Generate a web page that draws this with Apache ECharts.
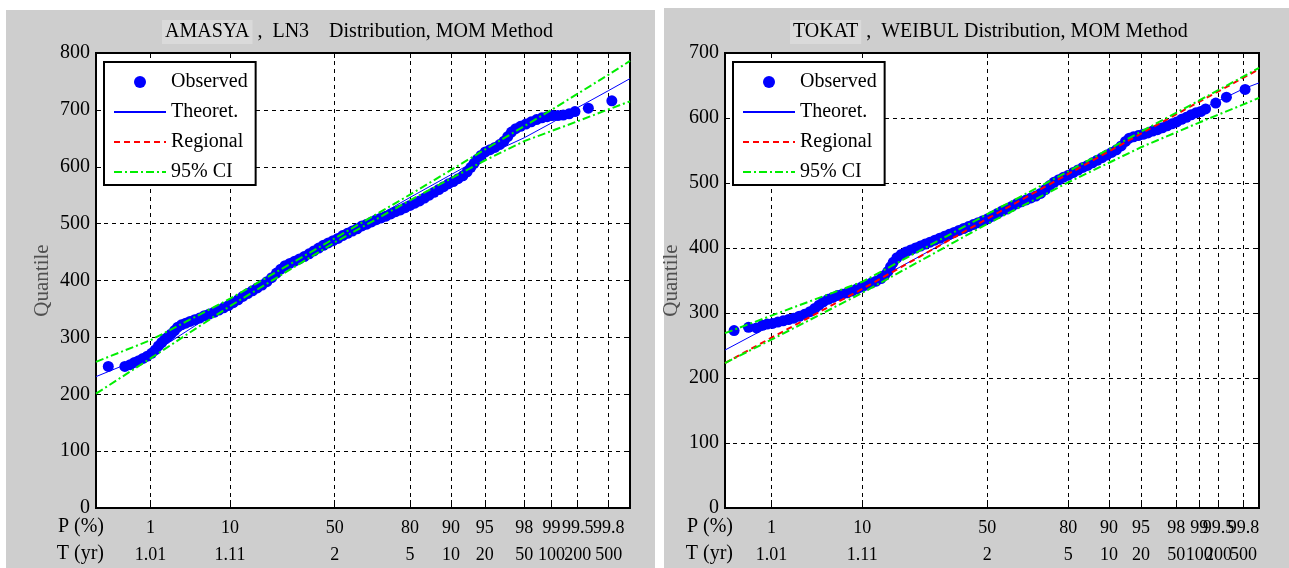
<!DOCTYPE html>
<html>
<head>
<meta charset="utf-8">
<script src="https://cdn.jsdelivr.net/npm/echarts@6/dist/echarts.min.js"></script>
<style>
  html, body { margin: 0; padding: 0; background: #fff; }
  .panel { position: absolute; background: #cecece; }
  #chart { position: absolute; left: 0; top: 0; width: 1289px; height: 568px; }
</style>
</head>
<body>
<div class="panel" style="left:6px;top:10px;width:649px;height:558px"></div>
<div class="panel" style="left:664px;top:8px;width:625px;height:560px"></div>
<div id="chart"></div>
<script>
// x values are positions along the probability axis, in % of the plot width
const pLabels = ['1', '10', '50', '80', '90', '95', '98', '99', '99.5', '99.8']
const tLabels = ['1.01', '1.11', '2', '5', '10', '20', '50', '100', '200', '500']
const tickPosLeft = [10.2, 25.1, 44.7, 58.8, 66.5, 72.8, 80.2, 85.3, 90.2, 96.0]
const tickPosRight = [8.7, 25.7, 49.1, 64.3, 71.9, 77.9, 84.5, 88.8, 92.4, 97.1]

// AMASYA, LN3
const observedLeft = [
  [2.3, 249], [5.4, 249], [6.4, 252], [7.2, 256], [8.0, 259], [8.8, 263], [9.6, 267], [10.4, 272],
  [11.1, 278], [11.7, 285], [12.3, 291], [12.9, 297], [13.5, 301], [14.1, 306], [14.7, 312], [15.3, 318],
  [16.0, 322], [16.8, 325], [17.6, 328], [18.5, 331], [19.4, 334], [20.3, 338], [21.2, 341], [22.1, 344],
  [23.0, 348], [23.9, 352], [24.8, 356], [25.7, 361], [26.6, 366], [27.5, 372], [28.4, 377], [29.3, 382],
  [30.2, 387], [31.1, 392], [32.0, 398], [32.9, 405], [33.8, 413], [34.6, 420], [35.4, 426], [36.3, 430],
  [37.2, 434], [38.1, 438], [39.0, 442], [39.9, 447], [40.8, 452], [41.7, 457], [42.6, 462], [43.5, 466],
  [44.4, 470], [45.3, 474], [46.2, 479], [47.1, 483], [48.0, 487], [48.9, 491], [49.8, 496], [50.7, 499],
  [51.6, 503], [52.5, 507], [53.4, 510], [54.3, 513], [55.2, 517], [56.1, 521], [57.0, 524], [57.9, 528],
  [58.8, 532], [59.7, 536], [60.6, 540], [61.5, 545], [62.4, 550], [63.3, 555], [64.2, 560], [65.1, 565],
  [66.0, 570], [66.9, 574], [67.8, 579], [68.7, 584], [69.5, 591], [70.2, 599], [70.8, 606], [71.4, 613],
  [72.1, 620], [72.9, 626], [73.8, 630], [74.7, 634], [75.6, 639], [76.4, 645], [77.1, 653], [77.8, 661],
  [78.6, 667], [79.5, 671], [80.5, 675], [81.5, 679], [82.5, 683], [83.5, 686], [84.5, 688], [85.5, 690],
  [86.5, 690], [87.5, 691], [88.6, 693], [89.7, 697], [92.2, 703], [96.6, 716]
]
const theoretLeft = [[0, 231], [10.2, 270], [25.1, 360], [44.7, 470], [58.8, 546], [72.8, 619], [80.2, 651], [85.3, 677], [90.2, 704], [96.0, 734], [100, 755]]
const ciUpperLeft = [[0, 257], [10.2, 295], [25.1, 368], [44.7, 474], [58.8, 551], [72.8, 630], [85.3, 700], [96.0, 762], [100, 786]]
const ciLowerLeft = [[0, 201], [10.2, 263], [25.1, 355], [44.7, 467], [58.8, 541], [72.8, 611], [80.2, 645], [90.2, 680], [96.0, 701], [100, 715]]
const regionalLeft = []

// TOKAT, WEIBUL
const observedRight = [
  [1.7, 273], [4.4, 278], [5.9, 277], [7.0, 281], [7.9, 283], [8.9, 284], [9.9, 286], [10.9, 288],
  [11.9, 290], [12.9, 292], [13.9, 295], [14.9, 298], [15.9, 302], [16.8, 307], [17.6, 312], [18.4, 317],
  [19.3, 321], [20.2, 324], [21.1, 327], [22.0, 329], [22.9, 331], [23.8, 334], [24.7, 337], [25.6, 340],
  [26.5, 343], [27.4, 346], [28.3, 349], [29.2, 353], [29.9, 358], [30.5, 364], [31.0, 371], [31.5, 378],
  [32.2, 385], [33.0, 390], [33.9, 394], [34.8, 397], [35.7, 400], [36.6, 403], [37.5, 406], [38.4, 409],
  [39.3, 412], [40.2, 415], [41.1, 418], [42.0, 421], [42.9, 424], [43.8, 427], [44.7, 430], [45.6, 433],
  [46.5, 436], [47.4, 439], [48.3, 442], [49.2, 445], [50.1, 449], [51.0, 453], [51.9, 457], [52.8, 460],
  [53.7, 464], [54.6, 468], [55.5, 471], [56.4, 474], [57.3, 477], [58.2, 480], [59.1, 484], [60.0, 490],
  [60.8, 496], [61.6, 501], [62.5, 505], [63.4, 509], [64.3, 512], [65.2, 516], [66.1, 520], [67.0, 524],
  [67.9, 527], [68.8, 531], [69.7, 535], [70.6, 539], [71.5, 543], [72.4, 547], [73.3, 551], [74.2, 557],
  [75.0, 564], [75.7, 569], [76.5, 571], [77.4, 573], [78.3, 575], [79.2, 577], [80.1, 580], [81.0, 582],
  [81.9, 585], [82.8, 588], [83.7, 591], [84.6, 594], [85.5, 598], [86.4, 601], [87.3, 605], [88.2, 608],
  [89.1, 610], [90.0, 614], [91.9, 623], [93.9, 632], [97.4, 644]
]
const theoretRight = [[0, 243], [8.7, 281], [25.7, 339], [49.1, 444], [64.3, 513], [77.9, 572], [88.8, 612], [97.1, 645], [100, 654]]
const regionalRight = [[0, 223], [8.7, 262], [25.7, 337], [49.1, 445], [64.3, 514], [77.9, 576], [88.8, 625], [97.1, 662], [100, 675]]
const ciUpperRight = [[0, 269], [8.7, 296], [25.7, 348], [49.1, 452], [64.3, 518], [77.9, 579], [88.8, 627], [97.1, 664], [100, 677]]
const ciLowerRight = [[0, 223], [8.7, 259], [25.7, 331], [49.1, 437], [64.3, 501], [77.9, 555], [88.8, 593], [97.1, 621], [100, 631]]

const FONT = '"Liberation Serif", "DejaVu Serif", serif'
const legendNames = ['Observed', 'Theoret.', 'Regional', '95% CI']

function labelOf(pos, labels) {
  return v => {
    let best = 0
    pos.forEach((p, i) => { if (Math.abs(p - v) < Math.abs(pos[best] - v)) best = i })
    return labels[best]
  }
}

// one row of labels is split over two axes (even / odd ticks) so that
// crowded neighbours at the end of the row are not dropped
function labelRow(g, pos, labels, offset, parity) {
  return {
    gridIndex: g, type: 'value', min: 0, max: 100, position: 'bottom', offset: offset,
    axisLine: { show: false }, axisTick: { show: false }, splitLine: { show: false },
    axisLabel: {
      customValues: pos.filter((p, i) => i % 2 === parity),
      formatter: labelOf(pos, labels), margin: 0, verticalAlign: 'middle',
      showMinLabel: true, showMaxLabel: true, hideOverlap: false,
      color: '#000', fontSize: 18, fontFamily: FONT,
    },
  }
}

function xAxes(g, pos) {
  return [
    {
      gridIndex: g, type: 'value', min: 0, max: 100, position: 'bottom',
      axisLine: { onZero: false, lineStyle: { color: '#000', width: 2 } },
      axisTick: { inside: true, length: 8, customValues: pos, lineStyle: { color: '#000' } },
      axisLabel: { show: false },
      splitLine: { show: true, lineStyle: { color: '#000', type: [4, 4], width: 1 } },
      name: 'P (%)\nT (yr)', nameLocation: 'start', nameGap: -8, nameMoveOverlap: false,
      nameTextStyle: { color: '#000', fontSize: 20, lineHeight: 27, fontFamily: FONT, verticalAlign: 'top', padding: [5, 0, 0, 0] },
    },
    {
      gridIndex: g, type: 'value', min: 0, max: 100, position: 'top',
      axisLine: { onZero: false, lineStyle: { color: '#000', width: 2 } },
      axisTick: { inside: true, length: 5, customValues: pos, lineStyle: { color: '#000' } },
      axisLabel: { show: false },
      splitLine: { show: false },
    },
    labelRow(g, pos, pLabels, 20, 0),
    labelRow(g, pos, pLabels, 20, 1),
    labelRow(g, pos, tLabels, 47, 0),
    labelRow(g, pos, tLabels, 47, 1),
  ]
}

function yAxes(g, max) {
  return [
    {
      gridIndex: g, type: 'value', min: 0, max: max, interval: 100, position: 'left',
      axisLine: { onZero: false, lineStyle: { color: '#000', width: 2 } },
      axisTick: { inside: true, length: 5, lineStyle: { color: '#000' } },
      axisLabel: { color: '#000', fontSize: 20, fontFamily: FONT, margin: 6 },
      splitLine: { show: true, lineStyle: { color: '#000', type: [4, 4], width: 1 } },
      name: 'Quantile', nameLocation: 'middle', nameGap: 43,
      nameTextStyle: { color: '#505050', fontSize: 21, fontFamily: FONT },
    },
    {
      gridIndex: g, type: 'value', min: 0, max: max, interval: 100, position: 'right',
      axisLine: { onZero: false, lineStyle: { color: '#000', width: 2 } },
      axisTick: { inside: true, length: 5, lineStyle: { color: '#000' } },
      axisLabel: { show: false }, splitLine: { show: false },
    },
  ]
}

function panelSeries(g, obs, theo, reg, up, low) {
  const ax = { xAxisIndex: g * 6, yAxisIndex: g * 2 }
  const ci = { color: '#00ee00', width: 2, type: [8, 3, 2, 3] }
  return [
    { ...ax, name: 'Theoret.', type: 'line', data: theo, symbol: 'none', lineStyle: { color: '#0000ff', width: 1 }, itemStyle: { color: '#0000ff' } },
    { ...ax, name: 'Observed', type: 'scatter', data: obs, symbolSize: 11, itemStyle: { color: '#0000ff', opacity: 1 } },
    { ...ax, name: 'Regional', type: 'line', data: reg, symbol: 'none', lineStyle: { color: '#ff0000', width: 2, type: [6, 4] }, itemStyle: { color: '#ff0000' } },
    { ...ax, name: '95% CI', type: 'line', data: up, symbol: 'none', lineStyle: ci, itemStyle: { color: '#00ee00' } },
    { ...ax, name: '95% CI', type: 'line', data: low, symbol: 'none', lineStyle: ci, itemStyle: { color: '#00ee00' } },
  ]
}

function legendAt(left) {
  const hidden = { color: 'rgba(0,0,0,0)', borderWidth: 0 }
  return {
    left: left, top: 62, orient: 'vertical', selectedMode: false,
    backgroundColor: '#fff', borderColor: '#000', borderWidth: 2,
    padding: [9, 8, 2, 9], itemGap: 8, itemWidth: 52, itemHeight: 12,
    textStyle: { color: '#000', fontSize: 20, lineHeight: 22, fontFamily: FONT },
    data: legendNames.map(n => n === 'Observed' ? { name: n } : { name: n, itemStyle: hidden }),
  }
}

function titleAt(left, head, rest) {
  return {
    left: left, top: 15,
    text: '{h|' + head + '}' + rest,
    textStyle: {
      color: '#000', fontSize: 20, fontWeight: 'normal', fontFamily: FONT,
      rich: { h: { backgroundColor: '#dadada', fontSize: 20, fontFamily: FONT, color: '#000', padding: [2, 3] } },
    },
  }
}

const gridBase = { top: 53, bottom: 60, show: true, backgroundColor: '#fff', borderColor: '#000', borderWidth: 2, outerBoundsMode: 'none' }

const chart = echarts.init(document.getElementById('chart'))
const option = {
  backgroundColor: 'transparent',
  animation: false,
  title: [
    titleAt(157, 'AMASYA', ' ,  LN3    Distribution, MOM Method'),
    titleAt(785, 'TOKAT', ' ,  WEIBUL Distribution, MOM Method'),
  ],
  legend: [legendAt(104), legendAt(733)],
  grid: [
    { ...gridBase, left: 96, right: 659 },
    { ...gridBase, left: 725, right: 30 },
  ],
  xAxis: [...xAxes(0, tickPosLeft), ...xAxes(1, tickPosRight)],
  yAxis: [...yAxes(0, 800), ...yAxes(1, 700)],
  series: [
    ...panelSeries(0, observedLeft, theoretLeft, regionalLeft, ciUpperLeft, ciLowerLeft),
    ...panelSeries(1, observedRight, theoretRight, regionalRight, ciUpperRight, ciLowerRight),
  ],
}
chart.setOption(option)
window.addEventListener('resize', () => chart.resize())
</script>
</body>
</html>
